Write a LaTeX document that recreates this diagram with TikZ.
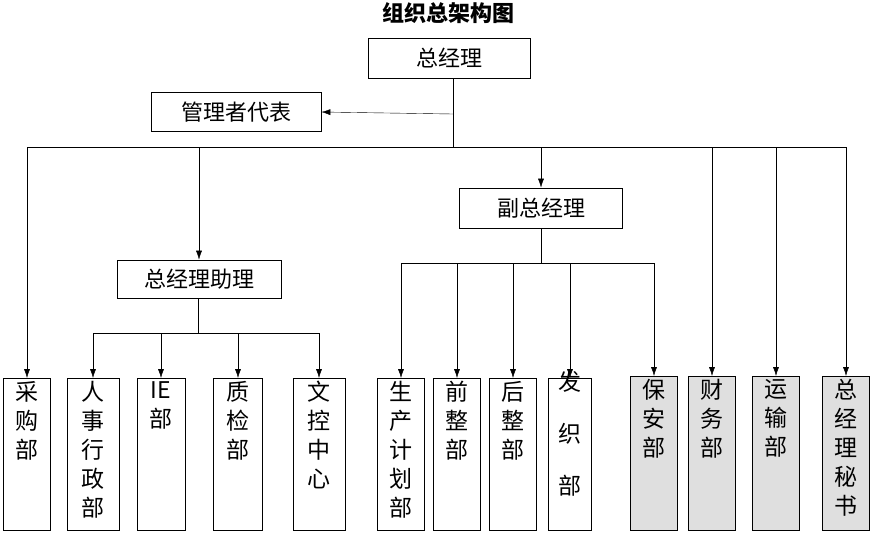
\documentclass[tikz,border=0pt]{standalone}
\usepackage{fontspec}
\newfontfamily\cjk{Noto Sans CJK SC}
\usetikzlibrary{arrows.meta}
\begin{document}
\begin{tikzpicture}[x=1pt,y=-1pt,>={Latex[length=9pt,width=6pt]},font=\cjk]
	\tikzstyle{box}=[draw,thick,inner sep=0pt,font=\cjk\fontsize{22}{24}\selectfont]
	\tikzstyle{col}=[draw,thick,inner sep=0pt,anchor=north,minimum width=47pt,minimum height=152pt]
	\tikzstyle{vtext}=[anchor=north,align=center,inner sep=3pt,font=\cjk\fontsize{23}{29}\selectfont]
	\tikzstyle{grey}=[fill=gray!25]
	\useasboundingbox (0,0) rectangle (873,539);

	\node[font=\cjk\bfseries\fontsize{22}{24}\selectfont] (T) at (448,13) {组织总架构图};
	\node[box,minimum width=162pt,minimum height=40pt] (GM) at (449,58) {总经理};
	\node[box,minimum width=170pt,minimum height=39pt] (MR) at (236,112) {管理者代表};
	\node[box,minimum width=164pt,minimum height=38pt] (AS) at (199,279) {总经理助理};
	\node[box,minimum width=163pt,minimum height=40pt] (VP) at (541,208) {副总经理};

	% columns
	\node[col] (B1) at (27,378) {};   \node[vtext] at (B1.north) {采\\购\\部};
	\node[col,minimum width=52pt] (B2) at (93,378) {}; \node[vtext] at (B2.north) {人\\事\\行\\政\\部};
	\node[col,minimum width=48pt] (B3) at (161,378) {}; \node[vtext] at (B3.north) {IE\\部};
	\node[col,minimum width=49pt] (B4) at (238,378) {}; \node[vtext] at (B4.north) {质\\检\\部};
	\node[col,minimum width=52pt] (B5) at (319,378) {}; \node[vtext] at (B5.north) {文\\控\\中\\心};
	\node[col] (B6) at (401,378) {};   \node[vtext] at (B6.north) {生\\产\\计\\划\\部};
	\node[col] (B7) at (457,378) {};   \node[vtext] at (B7.north) {前\\整\\部};
	\node[col] (B8) at (513,378) {};   \node[vtext] at (B8.north) {后\\整\\部};
	\node[col,minimum width=43pt] (B9) at (570,378) {}; \node[vtext,yshift=10pt,font=\cjk\fontsize{23}{52}\selectfont] at (B9.north) {发\\织\\部};
	\node[col,grey,minimum height=154pt] (B10) at (654,376) {}; \node[vtext] at (B10.north) {保\\安\\部};
	\node[col,grey,minimum height=154pt] (B11) at (712,376) {}; \node[vtext] at (B11.north) {财\\务\\部};
	\node[col,grey,minimum height=154pt] (B12) at (776,376) {}; \node[vtext] at (B12.north) {运\\输\\部};
	\node[col,grey,minimum height=154pt] (B13) at (846,376) {}; \node[vtext] at (B13.north) {总\\经\\理\\秘\\书};

	\coordinate (J0) at (453,147);
	\coordinate (J1) at (198,333);
	\coordinate (J2) at (541,263);

	\draw (GM.south -| J0) -- (J0);
	\draw[->] (453,114) -- (MR.east);
	\draw (B1.north |- J0) -- (B13.north |- J0);
	\foreach \n in {B1,B11,B12,B13} \draw[->] (\n.north |- J0) -- (\n.north);
	\draw[->] (AS.north |- J0) -- (AS.north);
	\draw[->] (J0 -| VP) -- (VP.north);

	\draw (AS.south -| J1) -- (J1);
	\draw (B2.north |- J1) -- (B5.north |- J1);
	\foreach \n in {B2,B3,B4,B5} \draw[->] (\n.north |- J1) -- (\n.north);

	\draw (VP.south) -- (J2);
	\draw (B6.north |- J2) -- (B10.north |- J2);
	\foreach \n in {B6,B7,B8,B9,B10} \draw[->] (\n.north |- J2) -- (\n.north);
\end{tikzpicture}
\end{document}
